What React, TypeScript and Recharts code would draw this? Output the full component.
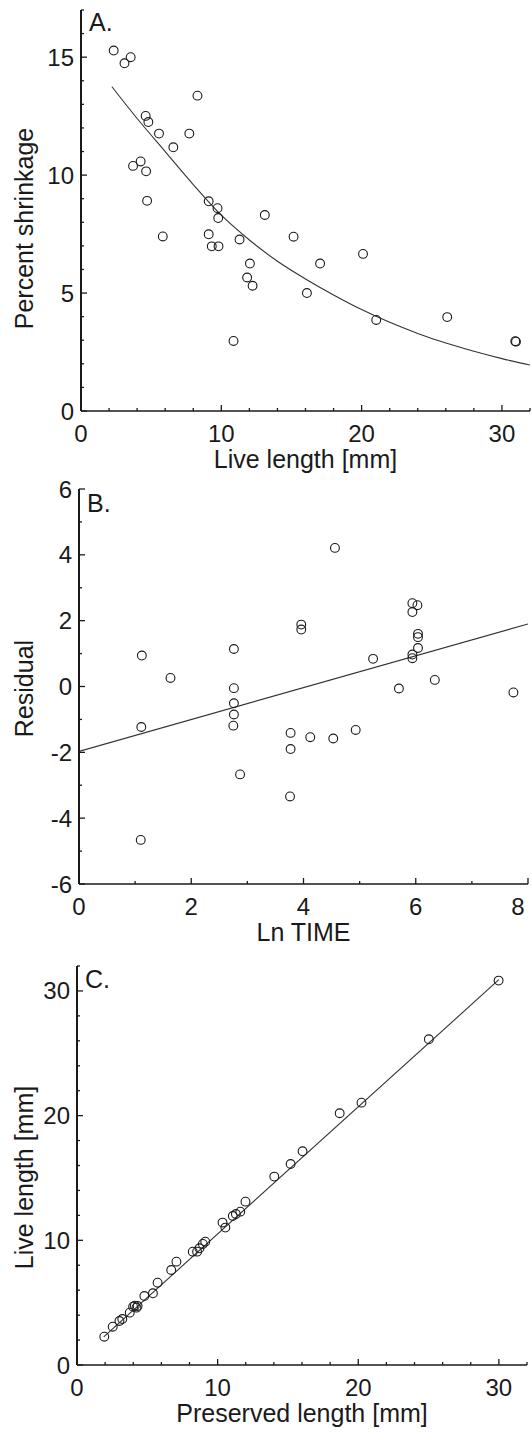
import { ComposedChart, Scatter, Line, XAxis, YAxis, Label } from 'recharts';

// Panel A: percent shrinkage vs live length
const shrinkLive = [2.33, 3.1, 3.54, 8.3, 4.61, 4.8, 5.56, 7.72, 6.58, 3.71, 4.25, 4.64, 4.71, 5.83, 9.1, 9.73, 9.78, 13.1, 9.1, 9.32, 9.8, 11.3, 15.15, 20.1, 12.04, 17.04, 11.84, 12.23, 16.1, 21.04, 26.1, 10.87, 30.95, 31.0];
const shrinkPct = [15.28, 14.74, 15.0, 13.37, 12.51, 12.25, 11.76, 11.76, 11.18, 10.39, 10.58, 10.16, 8.91, 7.4, 8.89, 8.6, 8.18, 8.31, 7.49, 6.98, 6.98, 7.27, 7.39, 6.66, 6.25, 6.25, 5.66, 5.31, 5.0, 3.86, 3.98, 2.97, 2.96, 2.94];
const fitALive = [2.2, 4, 6, 8, 10, 12, 14, 16, 18, 20, 22, 24, 26, 28, 30, 32];
const fitAPct = [13.75, 12.4, 11.0, 9.6, 8.3, 7.25, 6.35, 5.6, 4.92, 4.3, 3.76, 3.29, 2.88, 2.53, 2.22, 1.95];

// Panel B: residual vs ln time
const lnTime = [1.12, 1.11, 1.1, 1.63, 2.76, 2.76, 2.76, 2.76, 2.75, 2.87, 3.77, 3.77, 3.76, 3.96, 3.96, 4.12, 4.53, 4.56, 4.93, 5.24, 5.7, 5.94, 5.94, 6.03, 6.04, 6.04, 6.04, 5.94, 5.94, 6.34, 7.74];
const residual = [0.94, -1.23, -4.66, 0.26, 1.14, -0.05, -0.51, -0.85, -1.19, -2.67, -1.41, -1.9, -3.34, 1.88, 1.73, -1.54, -1.58, 4.21, -1.32, 0.84, -0.06, 2.53, 2.26, 2.47, 1.6, 1.5, 1.17, 0.97, 0.86, 0.2, -0.18];
const fitBTime = [0, 8];
const fitBRes = [-1.97, 1.9];

// Panel C: live length vs preserved length
const preserved = [1.94, 2.54, 3.02, 3.22, 3.75, 3.99, 4.11, 4.23, 4.31, 4.79, 5.4, 5.73, 6.7, 7.07, 8.23, 8.54, 8.71, 8.95, 9.12, 10.35, 10.55, 11.08, 11.3, 11.61, 11.98, 14.03, 15.19, 16.04, 18.68, 20.23, 25.02, 29.98];
const liveC = [2.27, 3.07, 3.53, 3.69, 4.2, 4.68, 4.76, 4.6, 4.73, 5.53, 5.75, 6.6, 7.62, 8.29, 9.09, 9.09, 9.36, 9.71, 9.89, 11.42, 11.02, 11.95, 12.11, 12.3, 13.1, 15.11, 16.12, 17.14, 20.19, 21.04, 26.12, 30.83];
const fitCPres = [1.9, 30.0];
const fitCLive = [2.25, 30.9];

const ticksA_x = [0, 2, 4, 6, 8, 10, 12, 14, 16, 18, 20, 22, 24, 26, 28, 30, 32];
const ticksA_y = [0, 1, 2, 3, 4, 5, 6, 7, 8, 9, 10, 11, 12, 13, 14, 15, 16, 17];
const ticksB_x = [0, 1, 2, 3, 4, 5, 6, 7, 8];
const ticksB_y = [-6, -5, -4, -3, -2, -1, 0, 1, 2, 3, 4, 5, 6];
const ticksC = [0, 2, 4, 6, 8, 10, 12, 14, 16, 18, 20, 22, 24, 26, 28, 30, 32];
const majorsA_x = [0, 10, 20, 30];
const majorsA_y = [0, 5, 10, 15];
const majorsB_x = [0, 2, 4, 6, 8];
const majorsB_y = [-6, -4, -2, 0, 2, 4, 6];
const majorsC = [0, 10, 20, 30];

const zip = (xs: number[], ys: number[]) => xs.map((x, i) => ({ x, y: ys[i] }));

const FONT = '"Liberation Sans", Arial, Helvetica, sans-serif';
const INK = '#1a1a1a';

type Side = 'bottom' | 'top' | 'left' | 'right';

function tickFor(side: Side, majors: number[], labels: boolean) {
  return (props: any) => {
    const { x, y, payload } = props;
    const v = payload.value;
    const len = majors.includes(v) ? 6 : 3;
    let x2 = x, y2 = y;
    if (side === 'bottom') y2 = y - len;
    if (side === 'top') y2 = y + len;
    if (side === 'left') x2 = x + len;
    if (side === 'right') x2 = x - len;
    const showText = labels && majors.includes(v);
    // keep the last label inside the page
    const tx = Math.min(x, 518);
    return (
      <g>
        <line x1={x} y1={y} x2={x2} y2={y2} stroke={INK} strokeWidth={1.3} />
        {showText && side === 'bottom' && (
          <text x={tx} y={y + 31} textAnchor="middle" fontSize={24} fontFamily={FONT} fill={INK}>{v}</text>
        )}
        {showText && side === 'left' && (
          <text x={x - 7} y={y + 8.5} textAnchor="end" fontSize={24} fontFamily={FONT} fill={INK}>{v}</text>
        )}
      </g>
    );
  };
}

const xTitle = (text: string) => (p: any) => {
  const vb = p.viewBox;
  return (
    <text x={vb.x + vb.width / 2} y={vb.y + 57} textAnchor="middle" fontSize={25} fontFamily={FONT} fill={INK}>{text}</text>
  );
};

const yTitle = (text: string, shift: number) => (p: any) => {
  const vb = p.viewBox;
  const cy = vb.y + vb.height / 2 + shift;
  return (
    <text x={33} y={cy} transform={`rotate(-90, 33, ${cy})`} textAnchor="middle" fontSize={25} fontFamily={FONT} fill={INK}>{text}</text>
  );
};

const circle = (p: any) => <circle cx={p.cx} cy={p.cy} r={4.4} fill="none" stroke={INK} strokeWidth={1.1} />;

interface PanelProps {
  height: number;
  margin: { top: number; right: number; bottom: number; left: number };
  yWidth: number;
  xDomain: [number, number];
  yDomain: [number, number];
  xTicks: number[];
  yTicks: number[];
  xMajors: number[];
  yMajors: number[];
  points: { x: number; y: number }[];
  fit: { x: number; y: number }[];
  curved?: boolean;
  xLabel: string;
  yLabel: string;
  yLabelShift: number;
  letter: string;
  letterY: number;
}

function Panel(p: PanelProps) {
  return (
    <div style={{ position: 'relative', width: 532, height: p.height }}>
      <ComposedChart width={532} height={p.height} margin={p.margin}>
        <XAxis type="number" dataKey="x" domain={p.xDomain} ticks={p.xTicks} interval={0} allowDataOverflow
          height={55} tickSize={0} tickMargin={0} axisLine={{ stroke: INK, strokeWidth: 1.6 }} tickLine={false}
          tick={tickFor('bottom', p.xMajors, true)}>
          <Label content={xTitle(p.xLabel)} />
        </XAxis>
        <XAxis xAxisId="top" orientation="top" type="number" dataKey="x" domain={p.xDomain} ticks={p.xTicks} interval={0} allowDataOverflow
          height={0} tickSize={0} tickMargin={0} axisLine={{ stroke: INK, strokeWidth: 1.3 }} tickLine={false}
          tick={tickFor('top', p.xMajors, false)} />
        <YAxis type="number" dataKey="y" domain={p.yDomain} ticks={p.yTicks} interval={0} allowDataOverflow
          width={p.yWidth} tickSize={0} tickMargin={0} axisLine={{ stroke: INK, strokeWidth: 2 }} tickLine={false}
          tick={tickFor('left', p.yMajors, true)}>
          <Label content={yTitle(p.yLabel, p.yLabelShift)} />
        </YAxis>
        <YAxis yAxisId="right" orientation="right" type="number" dataKey="y" domain={p.yDomain} ticks={p.yTicks} interval={0} allowDataOverflow
          width={0} tickSize={0} tickMargin={0} axisLine={{ stroke: INK, strokeWidth: 1.3 }} tickLine={false}
          tick={tickFor('right', p.yMajors, false)} />
        <Line data={p.fit} dataKey="y" type={p.curved ? 'monotone' : 'linear'} stroke="#333" strokeWidth={1.1}
          dot={false} activeDot={false} isAnimationActive={false} />
        <Scatter data={p.points} dataKey="y" shape={circle} isAnimationActive={false} />
      </ComposedChart>
      <div style={{ position: 'absolute', left: p.margin.left + p.yWidth + 8, top: p.letterY, fontFamily: FONT, fontSize: 25, lineHeight: '25px', color: INK }}>
        {p.letter}
      </div>
    </div>
  );
}

export default function App() {
  return (
    <div style={{ position: 'absolute', left: 0, top: 0, width: 532, height: 1432, background: '#fff' }}>
      <Panel height={475} margin={{ top: 10, right: 2, bottom: 9, left: 0 }} yWidth={81}
        xDomain={[0, 32]} yDomain={[0, 17]} xTicks={ticksA_x} yTicks={ticksA_y} xMajors={majorsA_x} yMajors={majorsA_y}
        points={zip(shrinkLive, shrinkPct)} fit={zip(fitALive, fitAPct)} curved
        xLabel="Live length [mm]" yLabel="Percent shrinkage" yLabelShift={18} letter="A." letterY={10} />
      <Panel height={480} margin={{ top: 14, right: 4, bottom: 16, left: 0 }} yWidth={79}
        xDomain={[0, 8]} yDomain={[-6, 6]} xTicks={ticksB_x} yTicks={ticksB_y} xMajors={majorsB_x} yMajors={majorsB_y}
        points={zip(lnTime, residual)} fit={zip(fitBTime, fitBRes)}
        xLabel="Ln TIME" yLabel="Residual" yLabelShift={2} letter="B." letterY={16} />
      <Panel height={477} margin={{ top: 11, right: 5, bottom: 12, left: 0 }} yWidth={77}
        xDomain={[0, 32]} yDomain={[0, 32]} xTicks={ticksC} yTicks={ticksC} xMajors={majorsC} yMajors={majorsC}
        points={zip(preserved, liveC)} fit={zip(fitCPres, fitCLive)}
        xLabel="Preserved length [mm]" yLabel="Live length [mm]" yLabelShift={12} letter="C." letterY={12} />
    </div>
  );
}
